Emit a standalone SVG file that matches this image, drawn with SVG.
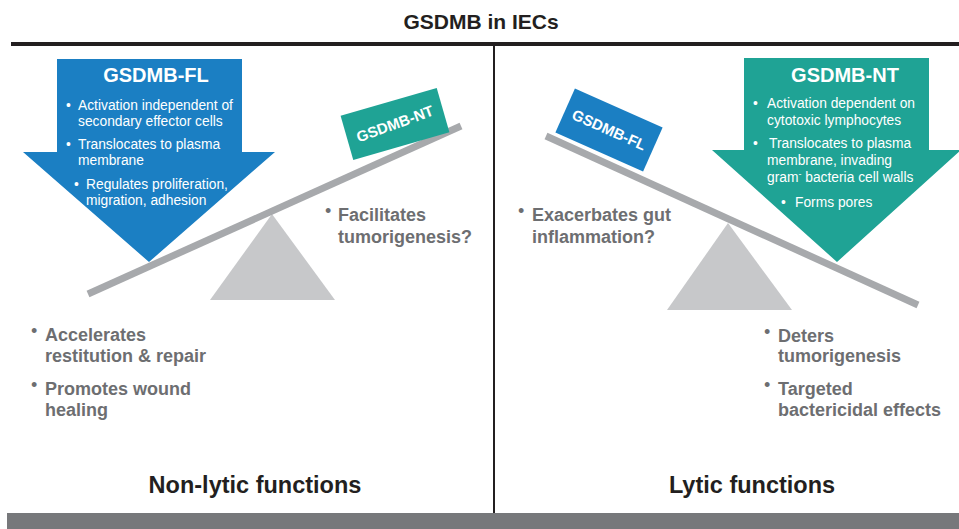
<svg xmlns="http://www.w3.org/2000/svg" width="959" height="529" viewBox="0 0 959 529">
  <style>
    .title { font-family: "Liberation Sans", Arial, sans-serif; font-weight: bold; fill: #231f20; }
    .head { font-family: "Liberation Sans", Arial, sans-serif; font-weight: bold; font-size: 20px; fill: #ffffff; text-anchor: middle; }
    .wt { font-family: "Liberation Sans", Arial, sans-serif; font-size: 13.8px; fill: #ffffff; }
    .box { font-family: "Liberation Sans", Arial, sans-serif; font-weight: bold; font-size: 15px; fill: #ffffff; text-anchor: middle; }
    .gt { font-family: "Liberation Sans", Arial, sans-serif; font-weight: bold; font-size: 18px; fill: #6d6e71; }
    .gb { font-family: "Liberation Sans", Arial, sans-serif; font-size: 18px; fill: #6d6e71; }
    .beam { stroke: #a7a9ac; stroke-width: 7; stroke-linecap: butt; fill: none; }
    .fulcrum { fill: #c7c8ca; }
    .blue { fill: #1b7fc3; }
    .teal { fill: #1fa395; }
  </style>

  <rect width="959" height="529" fill="#ffffff"/>

  <!-- heading and frame -->
  <g id="title">
    <text class="title" x="481" y="29" font-size="21" text-anchor="middle">GSDMB in IECs</text>
    <rect x="11" y="42" width="948" height="4" fill="#231f20"/>
  </g>
  <g id="divider">
    <rect x="493" y="46" width="2" height="467" fill="#231f20"/>
  </g>
  <g id="footer-bar">
    <rect x="7" y="513" width="952" height="16" fill="#77787b"/>
  </g>

  <!-- left panel: non-lytic -->
  <g id="gsdmb-fl-arrow">
    <polygon class="blue" points="57,59 242,59 242,152 275,152 149,262 23,152 57,152"/>
    <text class="head" x="156" y="82">GSDMB-FL</text>
    <text class="wt" x="66" y="110">•</text>
    <text class="wt" x="78" y="110">Activation independent of</text>
    <text class="wt" x="78" y="126">secondary effector cells</text>
    <text class="wt" x="66" y="149">•</text>
    <text class="wt" x="78" y="149">Translocates to plasma</text>
    <text class="wt" x="78" y="165">membrane</text>
    <text class="wt" x="74" y="189">•</text>
    <text class="wt" x="86" y="189">Regulates proliferation,</text>
    <text class="wt" x="86" y="205">migration, adhesion</text>
  </g>

  <g id="seesaw-left">
    <polygon class="fulcrum" points="272,214 335,300 210,300"/>
    <line class="beam" x1="88" y1="294" x2="461" y2="126"/>
  </g>

  <g id="gsdmb-nt-block" transform="translate(395,124) rotate(-16)">
    <rect class="teal" x="-50" y="-23" width="100" height="46"/>
    <text class="box" x="0" y="5" transform="rotate(-4)">GSDMB-NT</text>
  </g>

  <g id="left-notes">
    <text class="gb" x="325" y="217">•</text>
    <text class="gt" x="338" y="221">Facilitates</text>
    <text class="gt" x="338" y="243">tumorigenesis?</text>
    <text class="gb" x="31" y="337">•</text>
    <text class="gt" x="45" y="341">Accelerates</text>
    <text class="gt" x="45" y="362">restitution &amp; repair</text>
    <text class="gb" x="31" y="391">•</text>
    <text class="gt" x="45" y="395">Promotes wound</text>
    <text class="gt" x="45" y="416">healing</text>
  </g>

  <g id="label-non-lytic">
    <text class="title" x="255" y="493" font-size="23.5" text-anchor="middle">Non-lytic functions</text>
  </g>

  <!-- right panel: lytic -->
  <g id="gsdmb-nt-arrow">
    <polygon class="teal" points="744,58 929,58 929,150 961,150 837,262 712,150 744,150"/>
    <text class="head" x="845" y="82">GSDMB-NT</text>
    <text class="wt" x="753" y="108">•</text>
    <text class="wt" x="767" y="108">Activation dependent on</text>
    <text class="wt" x="767" y="125">cytotoxic lymphocytes</text>
    <text class="wt" x="753" y="148">•</text>
    <text class="wt" x="769" y="148">Translocates to plasma</text>
    <text class="wt" x="767" y="165">membrane, invading</text>
    <text class="wt" x="767" y="182">gram<tspan font-size="9" dy="-5">-</tspan><tspan dy="5"> bacteria cell walls</tspan></text>
    <text class="wt" x="781" y="207">•</text>
    <text class="wt" x="795" y="207">Forms pores</text>
  </g>

  <g id="seesaw-right">
    <polygon class="fulcrum" points="728,223 792,310 667,310"/>
    <line class="beam" x1="546" y1="136" x2="918" y2="305"/>
  </g>

  <g id="gsdmb-fl-block" transform="translate(609,130) rotate(24)">
    <rect class="blue" x="-48" y="-24" width="96" height="48"/>
    <text class="box" x="0" y="5">GSDMB-FL</text>
  </g>

  <g id="right-notes">
    <text class="gb" x="518" y="217">•</text>
    <text class="gt" x="532" y="221">Exacerbates gut</text>
    <text class="gt" x="532" y="243">inflammation?</text>
    <text class="gb" x="764" y="338">•</text>
    <text class="gt" x="778" y="342">Deters</text>
    <text class="gt" x="778" y="362">tumorigenesis</text>
    <text class="gb" x="764" y="391">•</text>
    <text class="gt" x="778" y="395">Targeted</text>
    <text class="gt" x="778" y="416">bactericidal effects</text>
  </g>

  <g id="label-lytic">
    <text class="title" x="752" y="493" font-size="23.5" text-anchor="middle">Lytic functions</text>
  </g>
</svg>
